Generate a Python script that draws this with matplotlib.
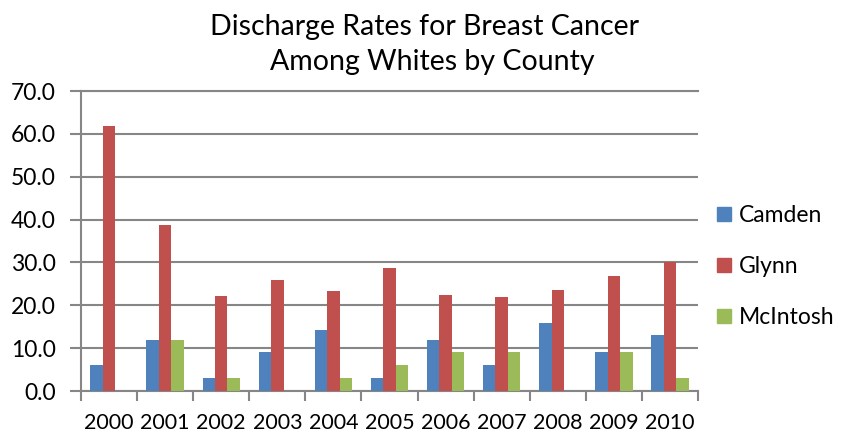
import matplotlib
matplotlib.use("Agg")
import matplotlib.pyplot as plt
import numpy as np
from matplotlib.lines import Line2D

years = ["2000", "2001", "2002", "2003", "2004", "2005", "2006", "2007", "2008", "2009", "2010"]
camden = [6.0, 12.0, 3.0, 9.0, 14.2, 3.0, 12.0, 6.0, 15.8, 9.0, 13.0]
glynn = [61.8, 38.8, 22.1, 25.8, 23.4, 28.8, 22.4, 22.0, 23.6, 26.8, 30.2]
mcintosh = [0.0, 12.0, 3.0, 0.0, 3.0, 6.0, 9.0, 9.0, 0.0, 9.0, 3.0]
series_names = ["Camden", "Glynn", "McIntosh"]
colors = ["#4F81BD", "#C0504D", "#9BBB59"]
yticks = [0, 10, 20, 30, 40, 50, 60, 70]

plt.rcParams['font.family'] = ['Lato', 'DejaVu Sans']

fig = plt.figure(figsize=(8.44, 4.33), dpi=100)
ax = fig.add_axes([81/844, (433-391)/433, (698-81)/844, 300/433])

x = np.arange(len(years))
w = 1/4.5
for i, (vals, c) in enumerate(zip([camden, glynn, mcintosh], colors)):
    ax.bar(x + (i-1)*w, vals, width=w, color=c, zorder=3, label=series_names[i])

ax.set_xlim(-0.5, len(years)-0.5)
ax.set_ylim(0, 70)
ax.set_yticks(yticks)
ax.set_yticklabels([f"{v:.1f}" for v in yticks], fontsize=16.5)
ax.yaxis.grid(True, color="#868686", linewidth=1.5, zorder=0)
ax.set_axisbelow(True)
for s in ["top", "right"]:
    ax.spines[s].set_visible(False)
for s in ["left", "bottom"]:
    ax.spines[s].set_color("#868686")
    ax.spines[s].set_linewidth(1.5)
ax.tick_params(axis='y', length=8, width=1.5, color="#868686", pad=10)
ax.set_xticks(x)
ax.set_xticklabels(years, fontsize=15.5)
ax.tick_params(axis='x', which='major', length=0, pad=16)
ax.set_xticks(np.arange(-0.5, len(years), 1.0), minor=True)
ax.tick_params(axis='x', which='minor', length=7, width=1.5, color="#868686")
ax.axhline(70, color="#868686", linewidth=1.5, clip_on=False, zorder=0)

fig.text(425/844, 1-27/433, "Discharge Rates for Breast Cancer", ha='center', va='center', fontsize=20.5)
fig.text(432/844, 1-62/433, "Among Whites by County", ha='center', va='center', fontsize=20.5)

handles = [Line2D([0], [0], marker='s', linestyle='none', markersize=10, markerfacecolor=c, markeredgecolor=c) for c in colors]
fig.legend(handles, series_names, loc='upper left', bbox_to_anchor=(713/844, 1-205/433), frameon=False,
           fontsize=16.5, labelspacing=1.3, handletextpad=0.15, handlelength=1.0, borderaxespad=0, borderpad=0)

fig.savefig("out.png", dpi=100)
